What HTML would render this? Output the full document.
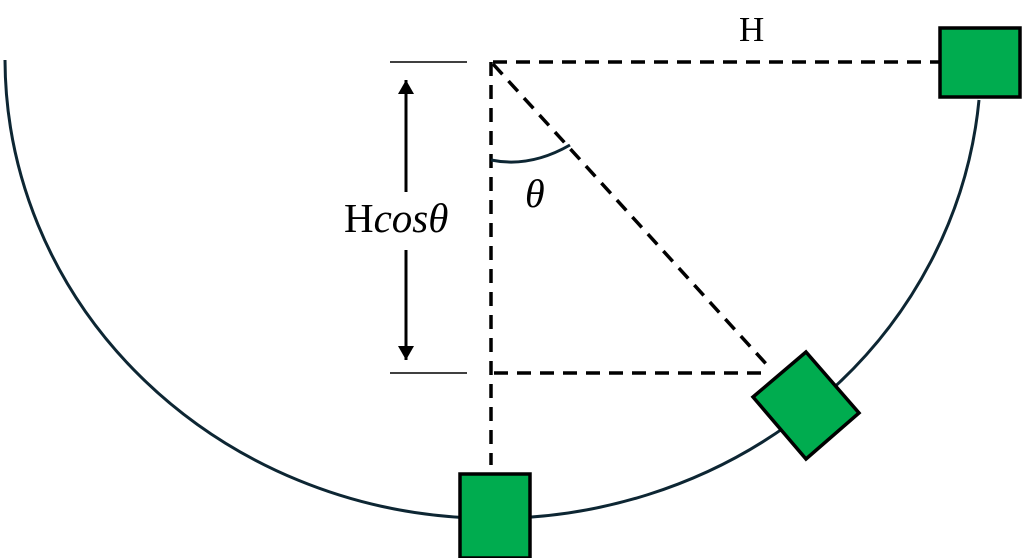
<!DOCTYPE html>
<html><head><meta charset="utf-8"><style>html,body{margin:0;padding:0;background:#fff;}svg{display:block}</style></head>
<body>
<svg width="1024" height="558" viewBox="0 0 1024 558" xmlns="http://www.w3.org/2000/svg">
<defs>
<marker id="a2" markerWidth="14" markerHeight="16" refX="14" refY="8" orient="auto" markerUnits="userSpaceOnUse"><path d="M0,0 L14,8 L0,16 z" fill="#000"/></marker></defs>
<path d="M5,60 A488,460 0 0 0 979,100" fill="none" stroke="#0d2633" stroke-width="3"/>
<g stroke="#000" stroke-width="3.5" stroke-dasharray="14,9" fill="none">
<line x1="493" y1="62" x2="940" y2="62"/>
<line x1="491" y1="62" x2="491" y2="465"/>
<line x1="493" y1="64" x2="768" y2="366"/>
<line x1="494" y1="373" x2="765" y2="373"/>
</g>
<path d="M491,160 Q530,168 570,145" fill="none" stroke="#0d2633" stroke-width="3"/>
<line x1="390" y1="62" x2="467" y2="62" stroke="#000" stroke-width="1.5"/>
<line x1="390" y1="373" x2="467" y2="373" stroke="#000" stroke-width="1.5"/>
<line x1="406" y1="192" x2="406" y2="80" stroke="#000" stroke-width="3" marker-end="url(#a2)"/>
<line x1="406" y1="250" x2="406" y2="360" stroke="#000" stroke-width="3" marker-end="url(#a2)"/>
<rect x="940" y="28" width="80" height="69" fill="#00ac4f" stroke="#000" stroke-width="3.5"/>
<rect x="460" y="474" width="70" height="84" fill="#00ac4f" stroke="#000" stroke-width="3.5"/>
<polygon points="806,352 859,413 806,459 753,397" fill="#00ac4f" stroke="#000" stroke-width="3.5"/>
<text x="344" y="232" font-family="Liberation Serif, serif" font-size="41">H<tspan font-style="italic">cosθ</tspan></text>
<text x="525" y="207" font-family="Liberation Serif, serif" font-size="40" font-style="italic">θ</text>
<text x="739" y="41" font-family="Liberation Serif, serif" font-size="35">H</text>
</svg>
</body></html>
